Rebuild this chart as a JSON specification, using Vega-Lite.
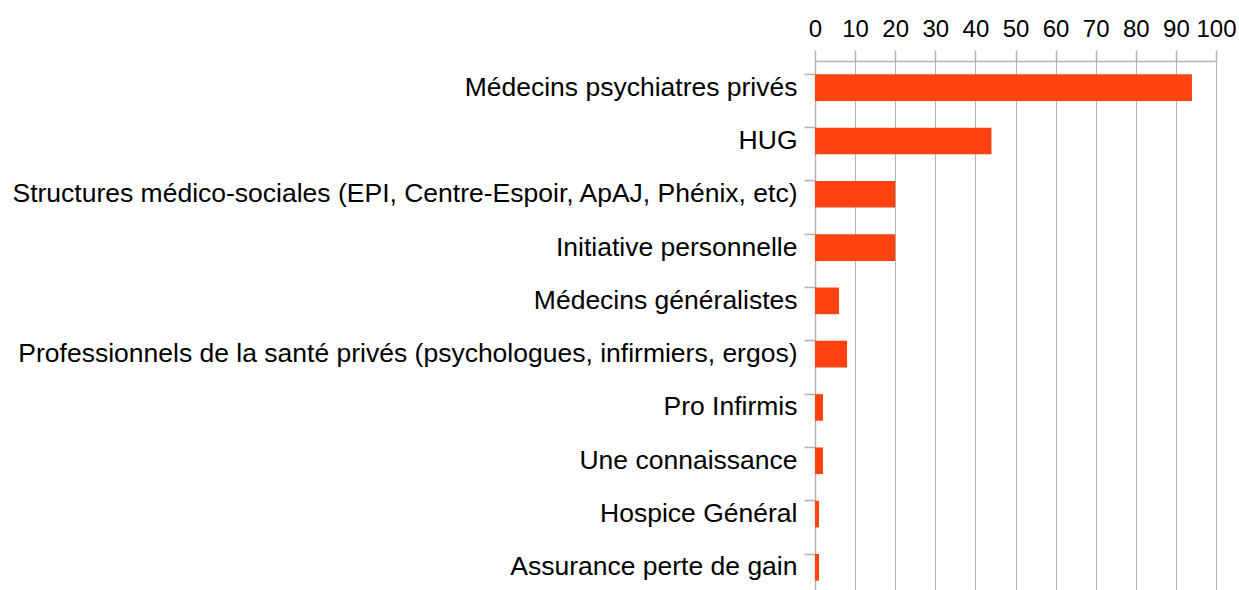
{
  "$schema": "https://vega.github.io/schema/vega-lite/v6.json",
  "width": 401,
  "height": 533,
  "autosize": "none",
  "padding": {"left": 815, "top": 61, "right": 23, "bottom": 0},
  "background": "white",
  "config": {"view": {"stroke": null}, "font": "Liberation Sans"},
  "data": {"values": [
    {"cat": "Médecins psychiatres privés", "v": 94},
    {"cat": "HUG", "v": 44},
    {"cat": "Structures médico-sociales (EPI, Centre-Espoir, ApAJ, Phénix, etc)", "v": 20},
    {"cat": "Initiative personnelle", "v": 20},
    {"cat": "Médecins généralistes", "v": 6},
    {"cat": "Professionnels de la santé privés (psychologues, infirmiers, ergos)", "v": 8},
    {"cat": "Pro Infirmis", "v": 2},
    {"cat": "Une connaissance", "v": 2},
    {"cat": "Hospice Général", "v": 1},
    {"cat": "Assurance perte de gain", "v": 1}
  ]},
  "mark": {"type": "bar", "color": "#ff420e"},
  "encoding": {
    "y": {
      "field": "cat", "type": "nominal", "sort": null,
      "scale": {"paddingInner": 0.5, "paddingOuter": 0.25},
      "axis": {"orient": "left", "title": null, "ticks": true, "bandPosition": 0,
               "tickSize": 11, "tickColor": "#b3b3b3", "tickWidth": 1.5, "tickOpacity": 1,
               "domain": true, "domainColor": "#b3b3b3", "domainWidth": 1.5, "grid": false,
               "labelFontSize": 26.5, "labelPadding": 7, "labelColor": "#000000",
               "labelLimit": 900, "labelFont": "Liberation Sans"}
    },
    "x": {
      "field": "v", "type": "quantitative",
      "scale": {"domain": [0, 100], "nice": false},
      "axis": {"orient": "top", "title": null,
               "values": [0, 10, 20, 30, 40, 50, 60, 70, 80, 90, 100],
               "labelFontSize": 24, "labelColor": "#000000", "labelFont": "Liberation Sans",
               "labelPadding": 9, "tickSize": 11, "tickColor": "#b3b3b3", "tickWidth": 1.5,
               "domainColor": "#b3b3b3", "domainWidth": 1.5,
               "grid": true, "gridColor": "#b3b3b3", "gridWidth": 1, "gridOpacity": 1,
               "labelFlush": false, "labelOverlap": false}
    }
  }
}
